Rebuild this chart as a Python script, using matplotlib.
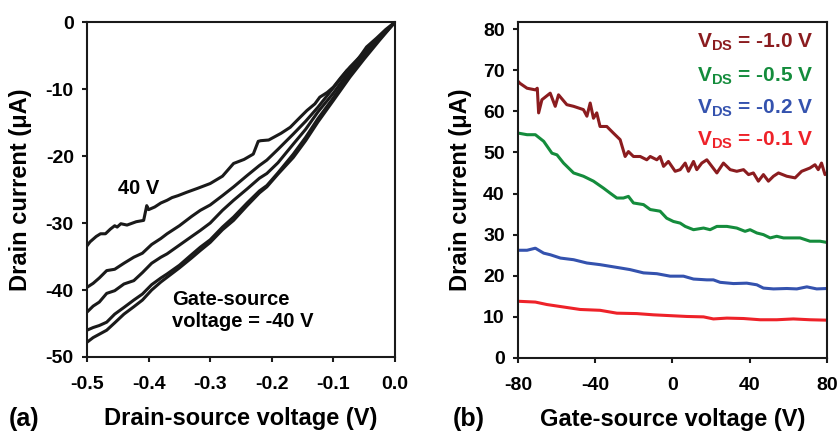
import matplotlib
matplotlib.use("Agg")
import matplotlib.pyplot as plt

plt.rcParams['font.family'] = ['Liberation Sans', 'DejaVu Sans']
plt.rcParams['font.weight'] = 'bold'
plt.rcParams['axes.labelweight'] = 'bold'
plt.rcParams['mathtext.fontset'] = 'custom'
plt.rcParams['mathtext.rm'] = 'Liberation Sans:bold'
plt.rcParams['mathtext.bf'] = 'Liberation Sans:bold'

# (a) output curves, drain-source voltage (V) vs drain current (uA)
vds_40 = [-0.500, -0.495, -0.485, -0.478, -0.470, -0.462, -0.455, -0.451, -0.445, -0.435,
          -0.420, -0.408, -0.403, -0.400, -0.390, -0.380, -0.370, -0.362, -0.352, -0.338,
          -0.320, -0.300, -0.280, -0.262, -0.245, -0.230, -0.222, -0.218, -0.205, -0.197,
          -0.185, -0.170, -0.155, -0.143, -0.130, -0.122, -0.110, -0.100, -0.088, -0.078,
          -0.065, -0.046, -0.030, -0.015, 0.0]
id_40 = [-33.4, -32.8, -32.0, -31.6, -31.6, -30.9, -30.4, -30.6, -30.1, -30.3,
         -29.8, -29.6, -27.4, -28.0, -27.6, -27.0, -26.6, -26.2, -25.9, -25.4,
         -24.8, -24.1, -23.0, -21.1, -20.5, -19.7, -17.8, -17.7, -17.6, -17.2,
         -16.6, -15.7, -14.3, -13.2, -12.2, -11.2, -10.5, -9.7, -8.3, -7.2,
         -6.2, -3.7, -2.4, -1.1, 0.0]

vds_grid = [-0.500, -0.490, -0.480, -0.468, -0.455, -0.440, -0.424, -0.410, -0.395, -0.380,
            -0.370, -0.350, -0.330, -0.316, -0.300, -0.280, -0.262, -0.240, -0.220, -0.208,
            -0.190, -0.165, -0.145, -0.125, -0.100, -0.073, -0.050, -0.025, 0.0]
id_20 = [-39.6, -39.0, -38.2, -37.1, -36.9, -36.0, -35.1, -34.5, -33.2, -32.3,
         -31.6, -30.4, -29.0, -28.1, -27.3, -25.9, -24.6, -22.9, -21.4, -20.6,
         -19.0, -16.7, -14.8, -12.7, -9.8, -6.7, -4.5, -2.2, 0.0]
id_0 = [-43.3, -42.4, -41.8, -40.5, -40.1, -39.1, -38.6, -37.4, -36.0, -35.1,
        -34.6, -33.3, -32.0, -31.1, -30.0, -28.1, -26.6, -24.9, -23.3, -22.6,
        -21.0, -18.2, -16.0, -13.4, -10.6, -7.2, -4.8, -2.3, 0.0]
id_m20 = [-46.0, -45.6, -45.3, -44.8, -43.6, -42.6, -41.5, -40.6, -39.2, -38.2,
          -37.6, -36.3, -34.7, -33.6, -32.5, -30.6, -29.1, -27.0, -25.2, -24.4,
          -22.5, -19.7, -17.2, -14.4, -11.3, -7.7, -5.1, -2.5, 0.0]
id_m40 = [-47.8, -47.1, -46.6, -46.0, -44.9, -43.6, -42.5, -41.5, -40.0, -38.8,
          -38.1, -36.7, -35.2, -34.1, -32.9, -31.0, -29.6, -27.4, -25.5, -24.6,
          -22.7, -20.2, -17.7, -14.9, -11.7, -8.2, -5.5, -2.7, 0.0]

# (b) transfer curves, gate-source voltage (V) vs drain current (uA)
vgs_10 = [-80, -79, -75.3, -71, -70, -69.3, -67.6, -63.3, -60.7, -59, -54.7, -51.2, -46.1,
          -44.3, -42.6, -40.9, -39.2, -37.5, -34, -30.6, -27.1, -24.5, -22.8, -20.2, -16.7,
          -13.3, -11.5, -8.1, -6.4, -4.6, -2.1, 1.4, 4, 6.6, 8.3, 10.9, 12.6, 15.2, 17.8,
          20.4, 23, 26.4, 29.9, 33.3, 36.8, 39.4, 41.9, 44.5, 47.1, 49.7, 52.3, 54.9, 59.2,
          63.5, 66.9, 71.2, 73.8, 75.5, 77.2, 79, 80]
id_10 = [67.3, 66.8, 65.6, 65.2, 65.6, 59.6, 62.8, 64.4, 61.2, 64.0, 61.6, 61.2, 60.4,
         58.8, 62.0, 58.3, 59.6, 56.3, 56.3, 54.7, 53.1, 49.0, 50.2, 49.0, 49.0,
         48.2, 49.0, 48.2, 49.0, 46.6, 47.8, 45.4, 45.8, 47.4, 45.4, 47.8, 45.8, 47.4, 48.2,
         46.6, 45.0, 47.4, 45.8, 45.4, 45.8, 44.6, 45.0, 43.0, 44.6, 43.0, 44.2, 45.0, 44.2,
         43.8, 45.4, 46.2, 47.0, 45.8, 47.4, 44.6, 45.0]

vgs_05 = [-80, -75.3, -71, -66.7, -62.4, -59.8, -56.4, -51.2, -46.1, -40.9, -35.7, -32.3,
          -28.8, -25.4, -22.8, -20.2, -15, -11.5, -6.4, -3, 0.5, 4, 6.6, 10.9, 16.1, 19.5,
          23, 28.2, 33.3, 37.6, 40.2, 43.7, 47.1, 50.6, 54, 57.5, 61, 66.1, 71.2, 76.4, 80]
id_05 = [54.7, 54.3, 54.3, 52.7, 49.8, 49.4, 47.4, 45.0, 44.2, 43.0, 41.3, 40.1,
         38.9, 38.9, 39.3, 37.7, 37.3, 36.1, 35.7, 34.0, 33.2, 32.8, 32.0, 31.2, 31.6, 31.2,
         32.0, 32.0, 31.6, 30.8, 31.2, 30.4, 30.0, 29.2, 29.6, 29.2, 29.2, 29.2, 28.4, 28.4, 28.1]

vgs_02 = [-80, -75.3, -71, -66.7, -63.2, -58, -51.2, -44.3, -37.5, -32.3, -27.1, -22, -15,
          -8.1, -1.2, 5.7, 10.9, 17.8, 21.2, 24.7, 31.6, 38.5, 43.7, 47.1, 52.3, 59.2, 64.4,
          69.6, 74.7, 80]
id_02 = [26.2, 26.2, 26.7, 25.5, 25.1, 24.3, 23.9, 23.1, 22.7, 22.3, 21.9, 21.5, 20.7,
         20.5, 19.9, 19.9, 19.2, 19.0, 19.0, 18.4, 18.1, 18.2, 17.8, 17.0, 16.8, 16.9, 16.8,
         17.3, 16.8, 16.9]

vgs_01 = [-80, -71, -65, -56.4, -47.8, -37.5, -28.8, -18.5, -9.9, -1.2, 7.4, 16.1, 21.2,
          28.2, 36.8, 45.4, 54, 62.6, 71.2, 80]
id_01 = [13.8, 13.6, 13.0, 12.4, 11.8, 11.6, 10.9, 10.8, 10.5, 10.3, 10.1, 10.0, 9.5,
         9.7, 9.6, 9.3, 9.3, 9.5, 9.3, 9.2]

vds_labels = ['-1.0', '-0.5', '-0.2', '-0.1']
colors = ['#8b1c1f', '#148c3c', '#3452ae', '#ee2229']

fig = plt.figure(figsize=(8.38, 4.36), dpi=100)
ax1 = fig.add_axes([0.1038, 0.1812, 0.3675, 0.768])
ax2 = fig.add_axes([0.6181, 0.1789, 0.3687, 0.7706])

for y in [id_20, id_0, id_m20, id_m40]:
    ax1.plot(vds_grid, y, color='#1a1a1a', lw=2.2)
ax1.plot(vds_40, id_40, color='#1a1a1a', lw=2.2)
ax1.set_xlim(-0.5, 0.0)
ax1.set_ylim(-50, 0)
ax1.set_xticks([-0.5, -0.4, -0.3, -0.2, -0.1, 0.0])
ax1.set_xticklabels(['-0.5', '-0.4', '-0.3', '-0.2', '-0.1', '0.0'])
ax1.set_yticks([0, -10, -20, -30, -40, -50])
ax1.set_yticklabels(['0', '-10', '-20', '-30', '-40', '-50'])
ax1.text(-0.45, -24.8, '40 V', fontsize=14.5, va='center', ha='left')
ax1.text(-0.362, -43.0, 'Gate-source\nvoltage = -40 V', fontsize=14.5, va='center', ha='left')
ax1.set_xlabel('Drain-source voltage (V)', fontsize=17, fontweight='bold')
ax1.set_ylabel('Drain current (\u03bcA)', fontsize=17, fontweight='bold')
ax1.xaxis.set_label_coords(0.5, -0.149)
ax1.yaxis.set_label_coords(-0.179, 0.5)

series = [(vgs_10, id_10), (vgs_05, id_05), (vgs_02, id_02), (vgs_01, id_01)]
for (x, y), c in zip(series, colors):
    ax2.plot(x, y, color=c, lw=2.2)
ax2.set_xlim(-80, 80)
ax2.set_ylim(0, 81.7)
ax2.set_xticks([-80, -40, 0, 40, 80])
ax2.set_xticklabels(['-80', '-40', '0', '40', '80'])
ax2.set_yticks(range(0, 81, 10))
ax2.set_xlabel('Gate-source voltage (V)', fontsize=17, fontweight='bold')
ax2.set_ylabel('Drain current (\u03bcA)', fontsize=17, fontweight='bold')
ax2.xaxis.set_label_coords(0.5, -0.149)
ax2.yaxis.set_label_coords(-0.149, 0.5)

for lab, c, yy in zip(vds_labels, colors, [0.923, 0.821, 0.726, 0.631]):
    ax2.text(0.955, yy, r'$\mathbf{V_{DS}}$ = ' + lab + ' V', color=c, fontsize=15,
             transform=ax2.transAxes, ha='right', va='baseline')

for ax in (ax1, ax2):
    for s in ax.spines.values():
        s.set_linewidth(1.5)
        s.set_color('#1a1a1a')
    ax.tick_params(direction='out', length=3.5, width=1.5, labelsize=14, color='#1a1a1a')
    ax.tick_params(axis='x', pad=10)
    ax.tick_params(axis='y', pad=6)

fig.text(0.01, 0.04, '(a)', fontsize=18, ha='left', va='center')
fig.text(0.54, 0.04, '(b)', fontsize=18, ha='left', va='center')

fig.savefig('out.png', dpi=100)
